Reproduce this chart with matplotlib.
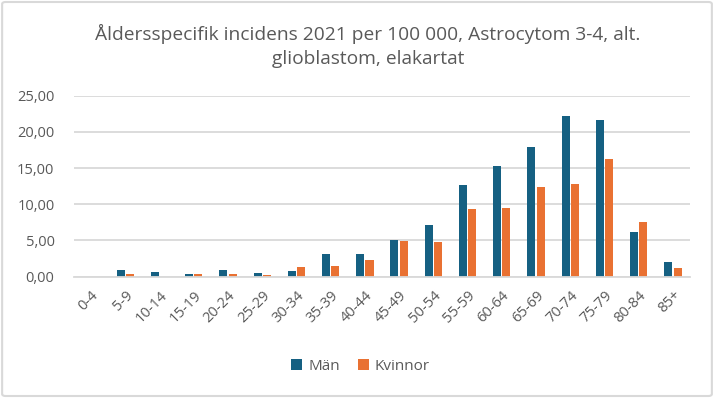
import numpy as np
import matplotlib.pyplot as plt
from matplotlib.patches import FancyBboxPatch

# age groups and incidence per 100 000
age_groups = ['0-4', '5-9', '10-14', '15-19', '20-24', '25-29', '30-34', '35-39',
              '40-44', '45-49', '50-54', '55-59', '60-64', '65-69', '70-74',
              '75-79', '80-84', '85+']
man = [0.0, 0.93, 0.65, 0.37, 0.93, 0.51, 0.79, 3.13, 3.13, 5.07, 7.14,
       12.66, 15.29, 17.91, 22.20, 21.65, 6.17, 2.03]
kvinnor = [0.0, 0.41, 0.0, 0.37, 0.41, 0.23, 1.34, 1.48, 2.30, 4.93, 4.79,
           9.35, 9.49, 12.39, 12.80, 16.24, 7.55, 1.20]
yticks = [0, 5, 10, 15, 20, 25]

plt.rcParams['font.family'] = ['Open Sans', 'DejaVu Sans']
text_color = '#595959'
grid_color = '#D9D9D9'

fig = plt.figure(figsize=(7.14, 3.98), dpi=100)
ax = fig.add_axes([0.1036, 0.3048, 0.8628, 0.4547])

x = np.arange(len(age_groups))
w = 0.234
ax.bar(x - 0.135, man, width=w, color='#156082', label='Män', zorder=3)
ax.bar(x + 0.135, kvinnor, width=w, color='#E97132', label='Kvinnor', zorder=3)

ax.set_xlim(-0.5, len(age_groups) - 0.5)
ax.set_ylim(0, 25)
ax.set_yticks(yticks)
ax.set_yticklabels([f'{v:.2f}'.replace('.', ',') for v in yticks])
ax.set_xticks(x)
ax.set_xticklabels(age_groups, rotation=45, ha='right', rotation_mode='anchor')
ax.tick_params(axis='both', length=0, colors=text_color, labelsize=10.5)
ax.tick_params(axis='x', pad=8)
ax.tick_params(axis='y', pad=14)
ax.yaxis.grid(True, color=grid_color, linewidth=1.3, zorder=0)
for s in ['top', 'right', 'left']:
    ax.spines[s].set_visible(False)
ax.spines['bottom'].set_color(grid_color)
ax.spines['bottom'].set_linewidth(1.3)
ax.spines['bottom'].set_zorder(4)

fig.text(0.515, 0.915, 'Åldersspecifik incidens 2021 per 100 000, Astrocytom 3-4, alt.',
         ha='center', va='center', fontsize=13.8, color=text_color)
fig.text(0.515, 0.852, 'glioblastom, elakartat',
         ha='center', va='center', fontsize=13.8, color=text_color)

leg = fig.legend(loc='center', bbox_to_anchor=(0.505, 0.08), ncol=2, frameon=False,
                 fontsize=11, handlelength=0.7, handleheight=0.7,
                 handletextpad=0.4, columnspacing=1.2)
for t in leg.get_texts():
    t.set_color(text_color)

border = FancyBboxPatch((0.003, 0.005), 0.994, 0.99, boxstyle='round,pad=0,rounding_size=0.005',
                        transform=fig.transFigure, facecolor='none',
                        edgecolor=grid_color, linewidth=1.5)
fig.patches.append(border)

fig.savefig('out.png', dpi=100)
